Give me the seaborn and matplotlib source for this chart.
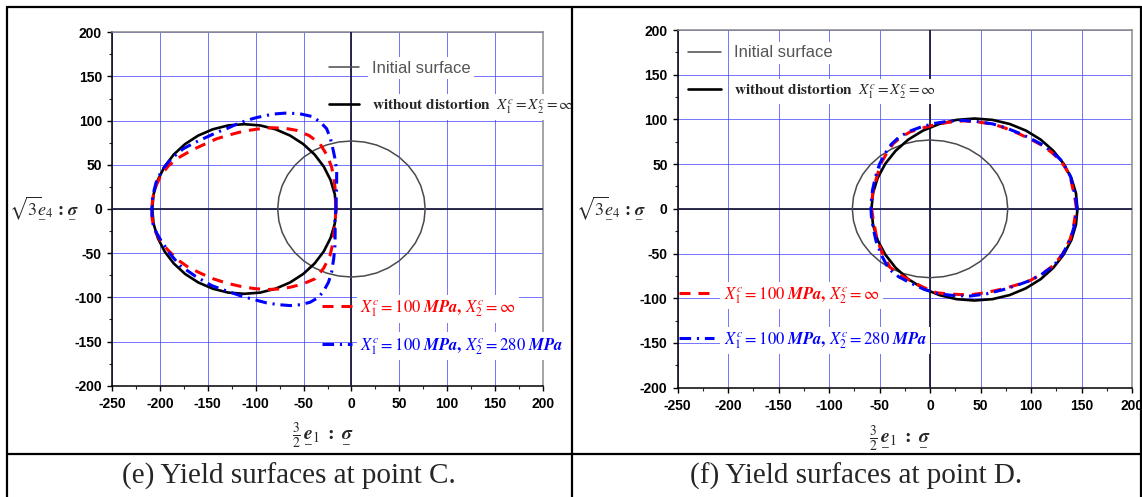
import io
import matplotlib
matplotlib.use('Agg')
import matplotlib.pyplot as plt
from matplotlib import mathtext
from matplotlib.lines import Line2D
from matplotlib.ticker import MultipleLocator
import pandas as pd
import seaborn as sns

### curve outlines (closed loops) ###

init_x = [77, 75.8, 72.4, 66.7, 59.0, 49.5, 38.5, 26.3, 13.4, 0, -13.4, -26.3, -38.5, -49.5, -59.0, -66.7, -72.4, -75.8, -77,
          -75.8, -72.4, -66.7, -59.0, -49.5, -38.5, -26.3, -13.4, 0, 13.4, 26.3, 38.5, 49.5, 59.0, 66.7, 72.4, 75.8, 77]
init_y = [0, 13.4, 26.3, 38.5, 49.5, 59.0, 66.7, 72.4, 75.8, 77, 75.8, 72.4, 66.7, 59.0, 49.5, 38.5, 26.3, 13.4, 0,
          -13.4, -26.3, -38.5, -49.5, -59.0, -66.7, -72.4, -75.8, -77, -75.8, -72.4, -66.7, -59.0, -49.5, -38.5, -26.3, -13.4, 0]

# point C
c_plain_x = [-16, -17.4, -21.8, -28.9, -38.5, -50.3, -64, -79.2, -95.3, -112, -128.7, -144.8, -160, -173.7, -185.5, -195.1, -202.2, -206.6, -208,
             -206.6, -202.2, -195.1, -185.5, -173.7, -160, -144.8, -128.7, -112, -95.3, -79.2, -64, -50.3, -38.5, -28.9, -21.8, -17.4, -16]
c_plain_y = [0, 16.7, 32.8, 48, 61.7, 73.5, 83.1, 90.2, 94.6, 96, 94.6, 90.2, 83.1, 73.5, 61.7, 48, 32.8, 16.7, 0,
             -16.7, -32.8, -48, -61.7, -73.5, -83.1, -90.2, -94.6, -96, -94.6, -90.2, -83.1, -73.5, -61.7, -48, -32.8, -16.7, 0]

c_x1_x = [-16, -16.5, -17.2, -18.5, -20.7, -25, -32.9, -44, -57.2, -70, -83.3, -98, -113, -127, -140.7, -153, -166, -179, -191, -199, -205, -207.5, -208.5,
          -208, -205, -199, -192, -182, -170.3, -157, -144.3, -130, -116.4, -102, -88.5, -76, -64.2, -51, -38.1, -29, -22.4, -19.5, -18.3, -17, -16]
c_x1_y = [0, 12, 24.7, 36, 47.4, 60, 73.9, 83, 89, 91.5, 92, 90.5, 88, 84, 79.5, 73.5, 67, 59, 49, 38, 24, 12, 0,
          -12, -25, -37, -46, -57, -66, -73, -79, -84, -87.4, -90, -91.2, -90.5, -88.6, -85, -79, -67, -52.7, -39, -26.3, -13, 0]

c_x1x2_x = [-16.2, -16, -15.5, -15.4, -17, -19, -22, -25.9, -33, -41.5, -54, -67.6, -78, -88.5, -99, -109.4, -120, -130.3, -141, -151.1, -163, -175.6, -188, -198.1, -204, -207.5, -208.6,
            -208, -206.9, -203.5, -199.9, -190, -179, -163, -145.9, -131, -116.4, -102, -88.5, -76, -64.2, -53, -43.3, -35, -29.4, -24, -20.7, -18.5, -17.2, -17, -17.2, -16.2]
c_x1x2_y = [0, 10, 25, 43.6, 56, 66.3, 80, 90.9, 99, 104.8, 107.8, 108.6, 107.8, 106, 103.5, 100.3, 96, 90.9, 86.5, 81.4, 75.5, 68.2, 57, 43.6, 30, 15, 0,
            -10, -18.7, -27, -33.8, -50, -64, -76, -86.7, -92.5, -98, -102.5, -106.3, -108.3, -109.3, -108.3, -105.6, -100.5, -93.5, -83, -71.6, -56, -41.4, -26, -11.1, 0]

# point D
d_plain_x = [146, 144.5, 139.9, 132.3, 122.1, 109.6, 95, 78.9, 61.7, 44, 26.3, 9.1, -7, -21.6, -34.1, -44.3, -51.9, -56.5, -58,
             -56.5, -51.9, -44.3, -34.1, -21.6, -7, 9.1, 26.3, 44, 61.7, 78.9, 95, 109.6, 122.1, 132.3, 139.9, 144.5, 146]
d_plain_y = [0, 17.6, 34.5, 50.5, 64.9, 77.4, 87.5, 94.9, 99.5, 101, 99.5, 94.9, 87.5, 77.4, 64.9, 50.5, 34.5, 17.6, 0,
             -17.8, -35, -51.2, -65.9, -78.6, -88.8, -96.4, -101, -102.5, -101, -96.4, -88.8, -78.6, -65.9, -51.2, -35, -17.8, 0]

d_x1_x = [145, 143.8, 141.5, 138.9, 134.5, 129, 120.5, 110.8, 98.5, 86, 74, 62.8, 48, 33, 20, 6.6, -7, -19.8, -29, -36.4, -42.5, -47.9, -52.5, -56.3, -57.5, -58,
          -56.5, -54.5, -52.9, -47, -39.7, -30, -19.8, -7, 6.6, 23, 39.7, 56, 72.7, 86, 99.2, 111, 122.3, 131.5, 138.9, 142, 143.8, 145]
d_x1_y = [0, 9.5, 22, 35.6, 45, 54.3, 63, 71.1, 78.5, 85, 90.5, 94.7, 97, 98.4, 97, 94.7, 90.5, 86, 80, 73, 63, 52.4, 37, 20.7, 10, 0,
          -10, -22, -33.4, -50, -65.2, -73.5, -80.1, -87.5, -93.9, -95.5, -96.2, -93.5, -89.4, -85, -80.1, -72.5, -63.3, -50, -33.4, -20, -7.3, 0]

d_x1x2_x = [145.5, 144.5, 142, 139.2, 134.8, 129.3, 121, 111.5, 99, 86.5, 74, 62, 47, 32, 18, 4, -9, -21, -31, -38.5, -44.5, -50, -54, -57, -58, -58.5,
            -58, -56, -53.5, -48, -41, -31, -20, -6, 8, 24, 40, 56, 72, 86, 99.5, 111.5, 122.5, 131.5, 139, 142.5, 144.5, 145.5]
d_x1x2_y = [0, 10, 22.5, 36, 45.5, 55, 63.5, 71.5, 79, 85.5, 91, 95, 97.5, 99, 98, 95.5, 91.5, 86.5, 80, 72, 62, 50, 36, 21, 10, 0,
            -10, -23, -36, -52, -67, -76, -82.5, -90, -95, -97, -97.5, -95, -90.5, -85.5, -80, -72.5, -63.5, -50.5, -33.5, -20.5, -7.5, 0]

x_ticks = [-250, -200, -150, -100, -50, 0, 50, 100, 150, 200]
y_ticks = [-200, -150, -100, -50, 0, 50, 100, 150, 200]
captions = ['(e) Yield surfaces at point C.', '(f) Yield surfaces at point D.']

### style ###

sns.set_theme(style='ticks')
plt.rcParams['font.family'] = ['Liberation Sans', 'DejaVu Sans']
plt.rcParams['mathtext.fontset'] = 'stix'
plt.rcParams['axes.unicode_minus'] = False


def mt_ok(s):
    try:
        mathtext.math_to_image(s, io.BytesIO(), dpi=72, format='png')
        return True
    except Exception:
        return False


# underline: mathtext has no \underline in some versions, fall back to \underset
if mt_ok(r'$\underline{e}$'):
    UL = r'\underline{%s}'
elif mt_ok(r'$\underset{\_}{e}$'):
    UL = r'\underset{\_}{%s}'
else:
    UL = '%s'
BFIT = r'\mathbfit{%s}' if mt_ok(r'$\mathbfit{M}$') else r'\mathbf{%s}'
BSYM = r'\boldsymbol{%s}' if mt_ok(r'$\boldsymbol{\sigma}$') else r'\mathbf{%s}'

sig = UL % (BSYM % r'\sigma')
ylab = r'$\sqrt{3}\!' + (UL % 'e') + r'_4\,\mathbf{:}\,' + sig + '$'
xlab = r'$\frac{3}{2}\,' + (UL % (BSYM % 'e')) + r'_1\ \mathbf{:}\ ' + sig + '$'
mpa = BFIT % 'MPa'
lab_init = 'Initial surface'
lab_plain = r'$\mathbf{without\ distortion}\ \ X_1^c=X_2^c=\infty$'
lab_x1 = r'$X_1^c=100\ ' + mpa + r'\mathbf{,}\ X_2^c=\infty$'
lab_x1x2 = r'$X_1^c=100\ ' + mpa + r'\mathbf{,}\ X_2^c=280\ ' + mpa + '$'

names = ['initial', 'plain', 'x1', 'x1x2']
palette = {'initial': '#4a4a4a', 'plain': 'black', 'x1': '#ff0000', 'x1x2': '#0000ff'}
sizes = {'initial': 1.1, 'plain': 1.9, 'x1': 2.2, 'x1x2': 2.2}
dashes = {'initial': '', 'plain': '', 'x1': (3.6, 2.6), 'x1x2': (3.8, 1.9, 0.7, 1.9)}

W, H = 1142, 497
fig = plt.figure(figsize=(W / 100, H / 100), dpi=100)
fig.patch.set_facecolor('white')


def px_axes(l, t, r, b):
    return fig.add_axes([l / W, 1 - b / H, (r - l) / W, (b - t) / H])


panels = [
    dict(box=(112, 32.3, 543, 385.7),
         curves={'initial': (init_x, init_y), 'plain': (c_plain_x, c_plain_y),
                 'x1': (c_x1_x, c_x1_y), 'x1x2': (c_x1x2_x, c_x1x2_y)},
         ylab_x=-0.075,
         leg1=(0.503, 0.920, 1.8, 0.78, 1.3), leg2=(0.487, 0.2475, 1.8, 0.5, 1.0)),
    dict(box=(677.6, 30, 1132, 387.7),
         curves={'initial': (init_x, init_y), 'plain': (d_plain_x, d_plain_y),
                 'x1': (d_x1_x, d_x1_y), 'x1x2': (d_x1x2_x, d_x1x2_y)},
         ylab_x=-0.068,
         leg1=(0.022, 0.957, 2.0, 0.78, 1.3), leg2=(0.004, 0.287, 2.07, 0.6, 1.45)),
]

for p in panels:
    ax = px_axes(*p['box'])
    frames = [pd.DataFrame({'x': xs, 'y': ys, 'curve': k}) for k, (xs, ys) in p['curves'].items()]
    df = pd.concat(frames, ignore_index=True)
    sns.lineplot(data=df, x='x', y='y', hue='curve', style='curve', size='curve',
                 hue_order=names, style_order=names, size_order=names,
                 palette=palette, sizes=sizes, dashes=dashes,
                 sort=False, estimator=None, legend=False, ax=ax, zorder=3)
    lines = list(ax.get_lines())

    ax.axhline(0, color='#1c1c3c', lw=1.3, zorder=2.6)
    ax.axvline(0, color='#1c1c3c', lw=1.3, zorder=2.6)

    ax.set_xlim(-250, 200)
    ax.set_ylim(-200, 200)
    ax.set_xticks(x_ticks, labels=[str(v) for v in x_ticks], fontweight='bold')
    ax.set_yticks(y_ticks, labels=[str(v) for v in y_ticks], fontweight='bold')
    ax.xaxis.set_minor_locator(MultipleLocator(25))
    ax.yaxis.set_minor_locator(MultipleLocator(25))
    ax.grid(True, which='major', color='#3a3aff', lw=0.7, alpha=0.7)
    ax.set_axisbelow(True)
    ax.tick_params(which='major', direction='out', length=3.6, width=1, pad=3.6,
                   labelsize=10, colors='black')
    ax.tick_params(which='minor', direction='out', length=2.2, width=0.8)
    ax.tick_params(axis='x', which='major', pad=4.5)
    for s in ['left', 'bottom']:
        ax.spines[s].set_color('black')
        ax.spines[s].set_linewidth(1.1)
    for s in ['top', 'right']:
        ax.spines[s].set_color('#8a8a8a')
        ax.spines[s].set_linewidth(1.1)

    ax.set_xlabel(xlab, fontsize=14)
    ax.xaxis.set_label_coords(0.49, -0.10)
    ax.set_ylabel(ylab, fontsize=13, rotation=0, ha='right', va='center')
    ax.yaxis.set_label_coords(p['ylab_x'], 0.5)

    lx, ly, hl, hp, ls = p['leg1']
    leg1 = ax.legend([lines[0], lines[1]], [lab_init, lab_plain], loc='upper left',
                     bbox_to_anchor=(lx, ly), frameon=False, fontsize=12,
                     handlelength=hl, handletextpad=hp, labelspacing=ls,
                     borderpad=0, borderaxespad=0)
    t0, t1 = leg1.get_texts()
    t0.set_color('#555555')
    t1.set_fontsize(11)
    for t in (t0, t1):
        t.set_bbox(dict(facecolor='white', edgecolor='none', pad=2.5))
    ax.add_artist(leg1)

    lx, ly, hl, hp, ls = p['leg2']
    leg2 = ax.legend([lines[2], lines[3]], [lab_x1, lab_x1x2], loc='upper left',
                     bbox_to_anchor=(lx, ly), frameon=False, fontsize=12,
                     handlelength=hl, handletextpad=hp, labelspacing=ls,
                     borderpad=0, borderaxespad=0)
    t2, t3 = leg2.get_texts()
    t2.set_color('#ff0000')
    t3.set_color('#0000ff')
    for t in (t2, t3):
        t.set_bbox(dict(facecolor='white', edgecolor='none', pad=2.5))

### table frame and captions ###

def fx(x):
    return x / W


def fy(y):
    return 1 - y / H


frame_kw = dict(color='black', lw=1.6, transform=fig.transFigure)
fig.add_artist(Line2D([fx(6.7), fx(1141)], [fy(7.3), fy(7.3)], **frame_kw))
fig.add_artist(Line2D([fx(6.7), fx(1141)], [fy(454), fy(454)], **frame_kw))
for xv in (6.7, 571.5, 1141):
    fig.add_artist(Line2D([fx(xv), fx(xv)], [fy(7.3), fy(497)], **frame_kw))

for cx, cap in zip((289, 856), captions):
    fig.text(fx(cx), fy(476), cap, ha='center', va='center', fontsize=21,
             family=['Liberation Serif', 'DejaVu Serif'])

fig.savefig('out.png', dpi=100, facecolor='white')
